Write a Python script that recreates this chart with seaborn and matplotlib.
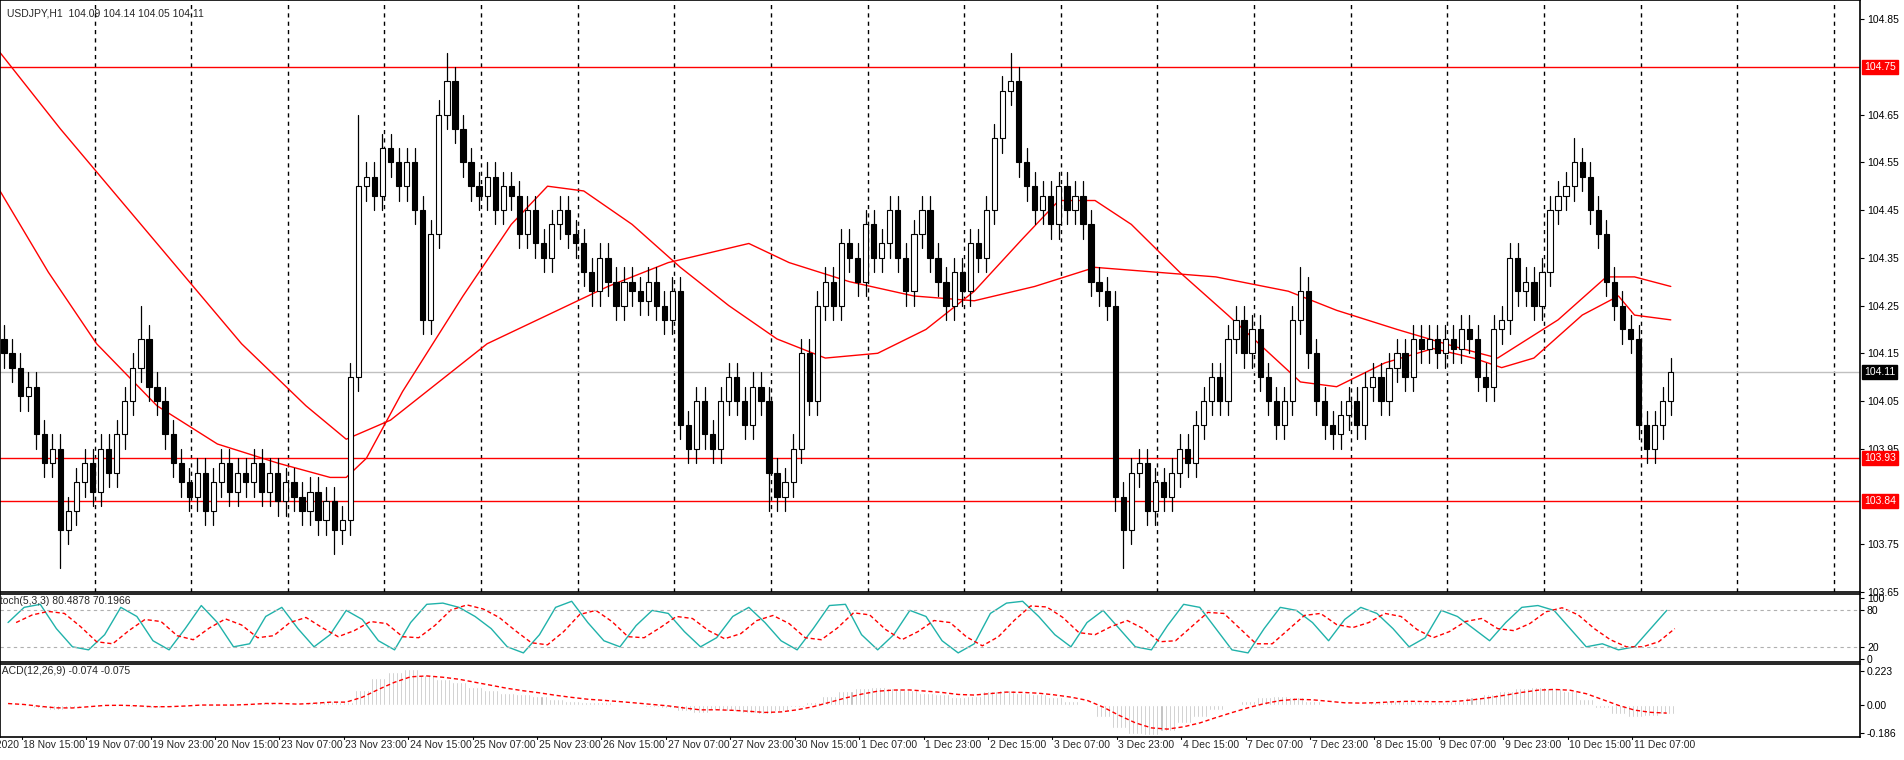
import numpy as np
import pandas as pd
import matplotlib
matplotlib.use("Agg")
import matplotlib.pyplot as plt
import matplotlib.transforms as mtrans
import seaborn as sns

sns.set_style("white")
plt.rcParams['font.family'] = ['Liberation Sans', 'DejaVu Sans']

# 2-hour closes (USDJPY)
closes = [
    104.15, 104.12, 104.06, 104.08, 103.98, 103.92, 103.95, 103.78, 103.82, 103.88,
    103.92, 103.86, 103.95, 103.90, 103.98, 104.05, 104.12, 104.18, 104.08, 104.05,
    103.98, 103.92, 103.88, 103.85, 103.90, 103.82, 103.88, 103.92, 103.86, 103.90,
    103.88, 103.92, 103.86, 103.90, 103.84, 103.88, 103.85, 103.82, 103.86, 103.80,
    103.84, 103.78, 103.80, 104.10, 104.50, 104.52, 104.48, 104.58, 104.55, 104.50,
    104.55, 104.45, 104.22, 104.40, 104.65, 104.72, 104.62, 104.55, 104.50, 104.48,
    104.52, 104.45, 104.50, 104.48, 104.40, 104.45, 104.38, 104.35, 104.42, 104.45,
    104.40, 104.38, 104.32, 104.28, 104.35, 104.30, 104.25, 104.30, 104.28, 104.26,
    104.30, 104.25, 104.22, 104.28, 104.00, 103.95, 104.05, 103.98, 103.95, 104.05,
    104.10, 104.05, 104.00, 104.08, 104.05, 103.90, 103.85, 103.88, 103.95, 104.15,
    104.05, 104.25, 104.30, 104.25, 104.38, 104.35, 104.30, 104.42, 104.35, 104.38,
    104.45, 104.35, 104.28, 104.40, 104.45, 104.35, 104.30, 104.25, 104.32, 104.28,
    104.38, 104.35, 104.45, 104.60, 104.70, 104.72, 104.55, 104.50, 104.45, 104.48,
    104.42, 104.50, 104.45, 104.48, 104.42, 104.30, 104.28, 104.25, 103.85, 103.78,
    103.90, 103.92, 103.82, 103.88, 103.85, 103.90, 103.95, 103.92, 104.00, 104.05,
    104.10, 104.05, 104.18, 104.22, 104.15, 104.20, 104.10, 104.05, 104.00, 104.05,
    104.22, 104.28, 104.15, 104.05, 104.00, 103.98, 104.02, 104.05, 104.00, 104.08,
    104.10, 104.05, 104.12, 104.15, 104.10, 104.18, 104.16, 104.18, 104.15, 104.18,
    104.16, 104.20, 104.18, 104.10, 104.08, 104.20, 104.22, 104.35, 104.28, 104.30,
    104.25, 104.32, 104.45, 104.48, 104.50, 104.55, 104.52, 104.45, 104.40, 104.30,
    104.25, 104.20, 104.18, 104.00, 103.95, 104.00, 104.05, 104.11,
]
first_open = 104.18
wick = 0.03
# long wicks that stick out
extreme_highs = {17: 104.25, 44: 104.65, 55: 104.78, 125: 104.78, 161: 104.33, 195: 104.60}
extreme_lows = {7: 103.70, 41: 103.73, 95: 103.82, 139: 103.70, 204: 103.92}

# moving averages: (hour index, price)
ma_fast_x = [0, 12, 24, 39, 54, 69, 82, 86, 91, 100, 115, 127, 136, 145, 157, 169, 181, 193, 205,
             218, 230, 242, 254, 263, 272, 281, 293, 305, 314, 323, 332, 344, 356, 366, 373,
             381, 393, 402, 406, 415]
ma_fast_y = [104.49, 104.32, 104.17, 104.04, 103.96, 103.92, 103.89, 103.89, 103.93, 104.07,
             104.27, 104.42, 104.50, 104.49, 104.42, 104.33, 104.25, 104.18, 104.14,
             104.15, 104.20, 104.28, 104.39, 104.47, 104.47, 104.42, 104.32, 104.23,
             104.16, 104.09, 104.08, 104.13, 104.16, 104.14, 104.12, 104.14, 104.23,
             104.27, 104.23, 104.22]
ma_slow_x = [0, 15, 30, 45, 60, 76, 86, 97, 109, 121, 136, 151, 166, 186, 196, 211, 227, 242,
             257, 272, 287, 302, 320, 332, 347, 363, 372, 387, 399, 406, 415]
ma_slow_y = [104.78, 104.62, 104.47, 104.32, 104.17, 104.04, 103.97, 104.01, 104.09, 104.17,
             104.23, 104.29, 104.34, 104.38, 104.34, 104.30, 104.27, 104.26, 104.29,
             104.33, 104.32, 104.31, 104.28, 104.24, 104.20, 104.16, 104.14, 104.22,
             104.31, 104.31, 104.29]

# 4-hour oscillator readings
stoch_k = [60, 85, 90, 50, 20, 15, 40, 85, 70, 30, 15, 50, 88, 60, 20, 25, 70, 85, 50, 20,
           40, 80, 65, 30, 15, 60, 90, 92, 85, 70, 50, 20, 10, 40, 85, 95, 60, 30, 20, 55,
           80, 75, 45, 20, 35, 70, 85, 60, 30, 15, 50, 88, 90, 40, 15, 40, 80, 70, 30, 10,
           25, 75, 92, 95, 70, 40, 20, 60, 80, 50, 20, 15, 55, 90, 85, 50, 15, 10, 50, 85,
           80, 60, 30, 65, 85, 75, 50, 20, 35, 80, 70, 50, 30, 60, 85, 88, 80, 50, 20, 25,
           15, 20, 50, 80]
macd = [0.01, 0.0, -0.02, -0.03, -0.02, 0.0, 0.01, 0.0, -0.01, -0.02, -0.01, 0.0, 0.01, 0.0,
        0.0, 0.01, 0.02, 0.01, 0.0, 0.02, 0.03, 0.02,
        0.10, 0.18, 0.22, 0.24, 0.20, 0.17, 0.15, 0.12, 0.10,
        0.08, 0.07, 0.06, 0.04, 0.03, 0.02, 0.02, 0.01, 0.0, -0.01,
        -0.02, -0.04, -0.05, -0.03, -0.04, -0.05, -0.06, -0.04, -0.01, 0.02,
        0.06, 0.09, 0.11, 0.12, 0.11, 0.10, 0.08, 0.07, 0.05, 0.06,
        0.09, 0.10, 0.08, 0.07, 0.05, 0.03, 0.0, -0.08, -0.15, -0.19,
        -0.20, -0.17, -0.12, -0.08, -0.03, 0.0, 0.03, 0.05, 0.06, 0.05,
        0.03, 0.01, 0.0, 0.01, 0.02, 0.03, 0.03, 0.02, 0.02, 0.03,
        0.05, 0.07, 0.09, 0.11, 0.12, 0.11, 0.09, 0.04, -0.02, -0.06, -0.08, -0.07, -0.06]

time_labels = ["17 Nov 2020", "18 Nov 15:00", "19 Nov 07:00", "19 Nov 23:00", "20 Nov 15:00",
               "23 Nov 07:00", "23 Nov 23:00", "24 Nov 15:00", "25 Nov 07:00", "25 Nov 23:00",
               "26 Nov 15:00", "27 Nov 07:00", "27 Nov 23:00", "30 Nov 15:00", "1 Dec 07:00",
               "1 Dec 23:00", "2 Dec 15:00", "3 Dec 07:00", "3 Dec 23:00", "4 Dec 15:00",
               "7 Dec 07:00", "7 Dec 23:00", "8 Dec 15:00", "9 Dec 07:00", "9 Dec 23:00",
               "10 Dec 15:00", "11 Dec 07:00"]
price_ticks = [104.85, 104.65, 104.55, 104.45, 104.35, 104.25, 104.15, 104.05, 103.95,
               103.75, 103.65]
levels = [104.75, 103.93, 103.84]
last_price = 104.11

X_MAX = 462
FS = 7.5
fig = plt.figure(figsize=(19.04, 7.6), dpi=100)
W = 1860 / 1904
ax = fig.add_axes([0, 1 - 592 / 760, W, 592 / 760])
ax_st = fig.add_axes([0, 1 - 662 / 760, W, 68 / 760], sharex=ax)
ax_md = fig.add_axes([0, 1 - 737 / 760, W, 73 / 760], sharex=ax)

for a in (ax, ax_st, ax_md):
    a.set_facecolor("white")
    for s in a.spines.values():
        s.set_color("black")
        s.set_linewidth(1.2)
    a.yaxis.tick_right()
    a.tick_params(axis="y", labelsize=FS, length=3, pad=2, colors="black")
    a.tick_params(axis="x", bottom=False, labelbottom=False)

# candles
df = pd.DataFrame({"close": closes})
df["open"] = df["close"].shift(1).fillna(first_open)
df["high"] = df[["open", "close"]].max(axis=1) + wick
df["low"] = df[["open", "close"]].min(axis=1) - wick
for k, v in extreme_highs.items():
    df.loc[k, "high"] = v
for k, v in extreme_lows.items():
    df.loc[k, "low"] = v
df["t"] = df.index * 2 + 1
for _, r in df.iterrows():
    ax.plot([r.t, r.t], [r.low, r.high], color="black", lw=0.9, zorder=3)
    lo, hi = min(r.open, r.close), max(r.open, r.close)
    up = r.close >= r.open
    ax.bar(r.t, max(hi - lo, 0.004), bottom=lo, width=1.3,
           color="white" if up else "black", edgecolor="black", lw=0.8, zorder=4)

sns.lineplot(x=ma_fast_x, y=ma_fast_y, ax=ax, color="red", lw=1.0, zorder=2)
sns.lineplot(x=ma_slow_x, y=ma_slow_y, ax=ax, color="red", lw=1.0, zorder=2)

for lv in levels:
    ax.axhline(lv, color="red", lw=1.0, zorder=1)
ax.axhline(last_price, color="#c0c0c0", lw=1.0, zorder=1)
for g in np.arange(23.5, X_MAX, 24):
    ax.axvline(g, color="black", lw=1.0, ls=(0, (3, 3)), zorder=0)

ax.set_xlim(0, X_MAX)
ax.set_ylim(103.679, 104.89)
ax.set_yticks(price_ticks)
ax.set_yticklabels([f"{p:.2f}" for p in price_ticks])
tr = mtrans.blended_transform_factory(ax.transAxes, ax.transData)
for lv in levels:
    ax.text(1.002, lv, f"{lv:.2f}", transform=tr, fontsize=FS, color="white", va="center",
            ha="left", bbox=dict(boxstyle="square,pad=0.2", fc="red", ec="red"))
ax.text(1.002, last_price, f"{last_price:.2f}", transform=tr, fontsize=FS, color="white",
        va="center", ha="left", bbox=dict(boxstyle="square,pad=0.2", fc="black", ec="black"))
ax.text(0.004, 0.985, "USDJPY,H1  104.09 104.14 104.05 104.11", transform=ax.transAxes,
        fontsize=FS, va="top")

# stochastic
st = pd.DataFrame({"k": stoch_k})
st["t"] = st.index * 4 + 2
st["d"] = st["k"].rolling(3, min_periods=1).mean()
sns.lineplot(data=st, x="t", y="k", ax=ax_st, color="#20b2aa", lw=1.0)
ax_st.plot(st["t"] + 2, st["d"], color="red", lw=1.0, ls=(0, (3, 2)))
for lv in (80, 20):
    ax_st.axhline(lv, color="#b0b0b0", lw=0.8, ls=(0, (3, 3)))
ax_st.set_ylim(-5, 107)
ax_st.set_yticks([100, 80, 20, 0])
ax_st.set_ylabel("")
ax_st.text(-0.004, 0.97, "Stoch(5,3,3) 80.4878 70.1966", transform=ax_st.transAxes,
           fontsize=FS, va="top", ha="left")

# MACD
md = pd.DataFrame({"macd": macd})
md["t"] = md.index * 4 + 2
md["sig"] = md["macd"].ewm(span=4).mean()
for off in (0, 1, 2, 3):
    ax_md.bar(md["t"] + off - 1.5, md["macd"], width=0.5, color="#b8b8b8")
ax_md.plot(md["t"], md["sig"], color="red", lw=1.0, ls=(0, (3, 2)))
ax_md.set_ylim(-0.21, 0.27)
ax_md.set_yticks([0.223, 0.0, -0.186])
ax_md.set_yticklabels(["0.223", "0.00", "-0.186"])
ax_md.text(-0.004, 0.97, "MACD(12,26,9) -0.074 -0.075", transform=ax_md.transAxes,
           fontsize=FS, va="top", ha="left")

for i, lab in enumerate(time_labels):
    if i == 0:
        ax_md.text(4.6, -0.23, lab, fontsize=FS, va="top", ha="right", clip_on=False)
        continue
    t = 5.4 + 16 * (i - 1)
    ax_md.text(t + 0.4, -0.23, lab, fontsize=FS, va="top", ha="left", clip_on=False)
    ax_md.plot([t, t], [-0.21, -0.225], color="black", lw=0.8, clip_on=False)
ax_md.set_xlim(0, X_MAX)

fig.savefig("out.png", dpi=100, facecolor="white")
